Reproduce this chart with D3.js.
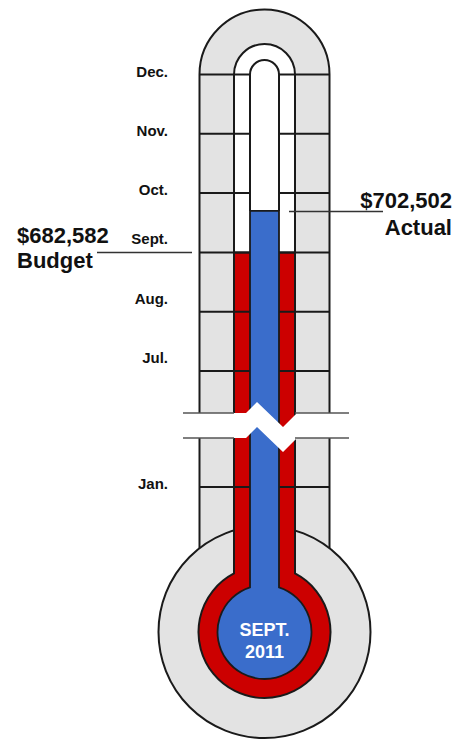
<!DOCTYPE html>
<html>
<head>
<meta charset="utf-8">
<script src="https://cdn.jsdelivr.net/npm/d3@7"></script>
<style>
  html, body { margin: 0; padding: 0; background: #fff; }
  svg { display: block; }
</style>
</head>
<body>
<div id="chart"></div>
<script>
// ---------- data ----------
const monthNames   = ["Jan.", "Feb.", "Mar.", "Apr.", "May", "Jun.", "Jul.", "Aug.", "Sept.", "Oct.", "Nov.", "Dec."];
const shownMonths  = [1, 7, 8, 9, 10, 11, 12];          // month numbers drawn on the scale (Feb–Jun are cut by the break)
const seriesNames  = ["Budget", "Actual"];
const seriesAmounts = [682582, 702502];
const seriesLevels = [9, 9.7];                           // month position reached by each series
const bulbText     = ["SEPT.", "2011"];

// ---------- layout ----------
const W = 468, H = 740;
const cx = 264.5;
const colHalf = 65, chanHalf = 30.5, tubeHalf = 14.5;
const bulbCy = 632, bulbR = 106, redR = 66, blueR = 47;
const GRAY = "#e3e3e3", RED = "#cc0000", BLUE = "#3a6dcb", INK = "#1a1a1a";
const FONT = "'Liberation Sans', Arial, Helvetica, sans-serif";

// month scale with a break between Jan and Jul
const y = d3.scaleLinear().domain([1, 7, 12]).range([487, 371, 74.5]);
const fmt = d3.format("$,");

const svg = d3.select("#chart").append("svg").attr("width", W).attr("height", H);

function arch(half, bottomY) {
  const top = y(12);
  return `M${cx - half},${bottomY} L${cx - half},${top} A${half},${half} 0 0 1 ${cx + half},${top} L${cx + half},${bottomY}`;
}
function neckBulb(half, topY, r) {
  const yi = bulbCy - Math.sqrt(r * r - half * half);
  return `M${cx - half},${topY} L${cx - half},${yi} A${r},${r} 0 1 0 ${cx + half},${yi} L${cx + half},${topY} Z`;
}

const budgetY = y(seriesLevels[0]);
const actualY = y(seriesLevels[1]);

// outer column
svg.append("path").attr("d", arch(colHalf, bulbCy))
  .attr("fill", GRAY).attr("stroke", INK).attr("stroke-width", 2);
// channel
svg.append("path").attr("d", arch(chanHalf, bulbCy))
  .attr("fill", "#fff").attr("stroke", INK).attr("stroke-width", 2);
// outer bulb
svg.append("circle").attr("cx", cx).attr("cy", bulbCy).attr("r", bulbR)
  .attr("fill", GRAY).attr("stroke", INK).attr("stroke-width", 2);
// budget (red)
svg.append("path").attr("d", neckBulb(chanHalf, budgetY, redR))
  .attr("fill", RED).attr("stroke", INK).attr("stroke-width", 2);
// tube (white, above actual)
svg.append("path").attr("d", arch(tubeHalf, actualY))
  .attr("fill", "#fff").attr("stroke", INK).attr("stroke-width", 2);
// actual (blue)
svg.append("path").attr("d", neckBulb(tubeHalf, actualY, blueR))
  .attr("fill", BLUE).attr("stroke", INK).attr("stroke-width", 1.8);

// month grid lines
const gl = svg.append("g").attr("stroke", INK).attr("stroke-width", 2);
shownMonths.forEach(m => {
  gl.append("line").attr("x1", cx - colHalf).attr("x2", cx - tubeHalf).attr("y1", y(m)).attr("y2", y(m));
  gl.append("line").attr("x1", cx + tubeHalf).attr("x2", cx + colHalf).attr("y1", y(m)).attr("y2", y(m));
});

// break band (zig-zag)
const bandTop = 413, bandH = 25, bandL = 183, bandR = 349;
const zig = [[bandL, 0], [cx - 18.5, 0], [cx - 7.5, -11], [cx + 18.5, 14], [cx + 32.5, 0], [bandR, 0]];
const topPts = zig.map(([x, d]) => [x, bandTop + d]);
const botPts = zig.map(([x, d]) => [x, bandTop + bandH + d]).reverse();
svg.append("path").attr("d", d3.line()(topPts.concat(botPts)) + "Z").attr("fill", "#fff");
const bl = svg.append("g").attr("stroke", "#555").attr("stroke-width", 1.3);
[bandTop, bandTop + bandH].forEach(yy => {
  bl.append("line").attr("x1", bandL).attr("x2", cx - chanHalf).attr("y1", yy).attr("y2", yy);
  bl.append("line").attr("x1", cx + chanHalf).attr("x2", bandR).attr("y1", yy).attr("y2", yy);
});

// month labels
svg.append("g").selectAll("text").data(shownMonths).join("text")
  .attr("x", 168)
  .attr("y", m => y(m) + (m > seriesLevels[0] || m < 7 ? 2 : -8))
  .attr("text-anchor", "end")
  .attr("font-family", FONT).attr("font-weight", "bold").attr("font-size", 15).attr("fill", "#111")
  .text(m => monthNames[m - 1]);

// budget callout
svg.append("line").attr("x1", 97).attr("x2", 192).attr("y1", budgetY).attr("y2", budgetY)
  .attr("stroke", "#333").attr("stroke-width", 1.5);
svg.append("text").attr("x", 17).attr("y", 243)
  .attr("font-family", FONT).attr("font-weight", "bold").attr("font-size", 22).attr("fill", "#111")
  .text(fmt(seriesAmounts[0]));
svg.append("text").attr("x", 17).attr("y", 268)
  .attr("font-family", FONT).attr("font-weight", "bold").attr("font-size", 22).attr("fill", "#111")
  .text(seriesNames[0]);

// actual callout
svg.append("line").attr("x1", 289).attr("x2", 383).attr("y1", actualY + 0.5).attr("y2", actualY + 0.5)
  .attr("stroke", "#333").attr("stroke-width", 1.5);
svg.append("text").attr("x", 452).attr("y", 208).attr("text-anchor", "end")
  .attr("font-family", FONT).attr("font-weight", "bold").attr("font-size", 22).attr("fill", "#111")
  .text(fmt(seriesAmounts[1]));
svg.append("text").attr("x", 452).attr("y", 235).attr("text-anchor", "end")
  .attr("font-family", FONT).attr("font-weight", "bold").attr("font-size", 22).attr("fill", "#111")
  .text(seriesNames[1]);

// bulb text
svg.append("g").selectAll("text").data(bulbText).join("text")
  .attr("x", cx).attr("y", (d, i) => bulbCy + 4 + i * 22)
  .attr("text-anchor", "middle")
  .attr("font-family", FONT).attr("font-weight", "bold").attr("font-size", 18).attr("fill", "#fff")
  .text(d => d);
</script>
</body>
</html>
